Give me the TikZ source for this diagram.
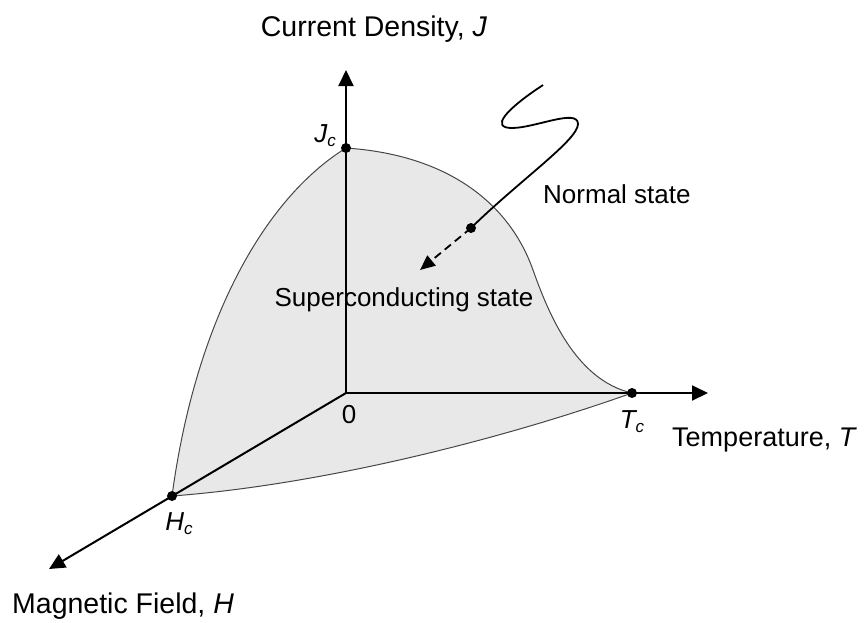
\documentclass[tikz,border=0pt]{standalone}
\usepackage{fontspec}
\setmainfont{Liberation Sans}
\usetikzlibrary{arrows.meta}
\definecolor{regionfill}{RGB}{232,232,232}
\definecolor{edgecol}{RGB}{70,70,70}
\begin{document}
\begin{tikzpicture}[x=1pt,y=-1pt,
  axis/.style={line width=2pt,-{Triangle[length=16pt,width=15pt]}},
  edge/.style={draw=edgecol,line width=1pt},
  dot/.style={circle,fill=black,inner sep=0pt,minimum size=10pt},
  lab/.style={font=\fontsize{26}{30}\selectfont,inner sep=0pt},
  biglab/.style={font=\fontsize{28.5}{32}\selectfont,inner sep=0pt},
  sublab/.style={font=\fontsize{26}{28}\selectfont\itshape,inner sep=0pt},
  trajectory/.style={line width=1.8pt}]
\useasboundingbox (0,0) rectangle (867,622);
% key points
\coordinate (O) at (346,393);
\coordinate (pJ) at (346,148);
\coordinate (pT) at (632,393);
\coordinate (pH) at (172,496);
\coordinate (Jtip) at (346,70);
\coordinate (Ttip) at (708,393);
\coordinate (Htip) at (49,569);
\coordinate (wstart) at (543,85);
\coordinate (pN) at (471,228);
\coordinate (aend) at (420,270);
% shaded region
\fill[regionfill] (pJ) .. controls (450,155) and (510,205) .. (533,270)
  .. controls (548,312) and (575,380) .. (pT)
  .. controls (500,440) and (320,485) .. (pH)
  .. controls (195,325) and (262,200) .. (pJ) -- cycle;
\draw[edge] (pJ) .. controls (450,155) and (510,205) .. (533,270)
  .. controls (548,312) and (575,380) .. (pT);
\draw[edge] (pT) .. controls (500,440) and (320,485) .. (pH);
\draw[edge] (pH) .. controls (195,325) and (262,200) .. (pJ);
% axes
\draw[axis] (O) -- (Jtip);
\draw[axis] (O) -- (Ttip);
\draw[axis] (O) -- (Htip);
% dots
\node[dot] (Jc) at (pJ) {};
\node[dot] (Tc) at (pT) {};
\node[dot] (Hc) at (pH) {};
% path into the superconducting state
\draw[trajectory] (wstart) .. controls (505,110) and (490,128) .. (512,128)
  .. controls (535,128) and (578,108) .. (578,124)
  .. controls (578,140) and (520,180) .. (pN);
\node[dot] (N) at (pN) {};
\draw[trajectory,dash pattern=on 8pt off 5pt,-{Triangle[length=15pt,width=13pt]}] (N.center) -- (aend);
% labels
\node[biglab,anchor=base] (lJ) at (374,36) {Current Density, \textit{J}};
\node[sublab,anchor=base] (lJc) at (325,142) {J\raisebox{-4pt}{\fontsize{17}{17}\selectfont c}};
\node[lab,anchor=base west] (lN) at (543,203) {Normal state};
\node[lab,anchor=base] (lS) at (404,306) {Superconducting state};
\node[lab,anchor=base] (l0) at (349,423) {0};
\node[sublab,anchor=base] (lTc) at (632,428) {T\raisebox{-4pt}{\fontsize{17}{17}\selectfont c}};
\node[lab,anchor=base west,font=\fontsize{27}{30}\selectfont] (lT) at (672,446) {Temperature, \textit{T}};
\node[sublab,anchor=base] (lHc) at (179,530) {H\raisebox{-4pt}{\fontsize{17}{17}\selectfont c}};
\node[biglab,anchor=base west] (lH) at (12,613) {Magnetic Field, \textit{H}};
\end{tikzpicture}
\end{document}
